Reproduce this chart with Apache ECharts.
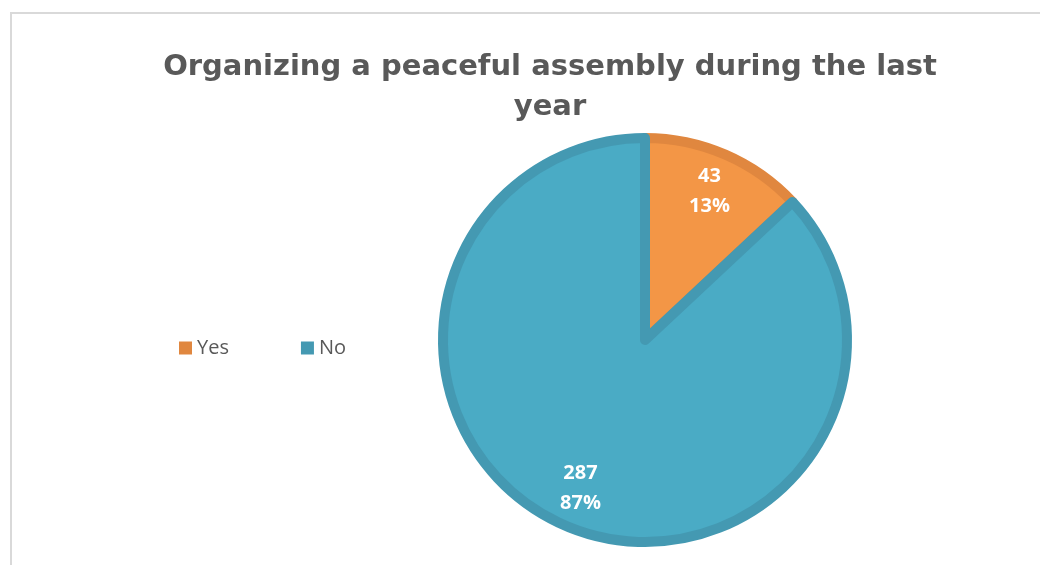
<!DOCTYPE html>
<html><head><meta charset="utf-8">
<script src="https://cdn.jsdelivr.net/npm/echarts@6/dist/echarts.min.js"></script>
<style>
html,body{margin:0;padding:0;background:#fff;}
#frame{position:absolute;left:10px;top:12px;width:1030px;height:553px;border-top:2px solid #d9d9d9;border-left:2px solid #d9d9d9;box-sizing:border-box;}
#chart{position:absolute;left:0;top:0;width:1040px;height:565px;}
</style></head>
<body>
<div id="frame"></div>
<div id="chart"></div>
<script>
const categories = ['Yes', 'No'];
const counts = [43, 287];
const percents = ['13%', '87%'];
const fillColors = ['#F39646', '#4AABC5'];
const edgeColors = ['#E0873F', '#4499B2'];
const titleText = 'Organizing a peaceful assembly during the last\nyear';

const chart = echarts.init(document.getElementById('chart'));
const pieData = categories.map((c, i) => ({
  name: c, value: counts[i],
  itemStyle: { color: fillColors[i], borderColor: edgeColors[i], borderWidth: 10 }
}));
const labelData = categories.map((c, i) => ({ name: c, value: counts[i] }));
chart.setOption({
  animation: false,
  title: {
    text: titleText, left: 545, textAlign: 'center', top: 42,
    textStyle: { fontFamily: 'DejaVu Sans', fontWeight: 'bold', fontSize: 29, color: '#595959', lineHeight: 40 }
  },
  legend: {
    left: 174, top: 333, itemWidth: 13, itemHeight: 13, itemGap: 72,
    icon: 'rect',
    textStyle: { fontFamily: 'Open Sans', fontSize: 20, color: '#595959' },
    data: categories.map((c, i) => ({ name: c, itemStyle: { color: edgeColors[i], borderWidth: 0 } }))
  },
  series: [
    {
      type: 'pie', center: [645, 340], radius: [0, 202], startAngle: 90, clockwise: true,
      label: { show: false }, labelLine: { show: false }, emphasis: { disabled: true },
      data: pieData
    },
    {
      type: 'pie', center: [645, 340], radius: [108, 210], startAngle: 90, clockwise: true, silent: true,
      itemStyle: { color: 'rgba(0,0,0,0)', borderWidth: 0 },
      labelLine: { show: false }, emphasis: { disabled: true },
      label: {
        show: true, position: 'inside',
        formatter: p => counts[p.dataIndex] + '\n' + percents[p.dataIndex],
        fontFamily: 'Open Sans', fontWeight: 'bold', fontSize: 20, color: '#ffffff', lineHeight: 30
      },
      data: labelData
    }
  ]
});
</script>
</body></html>
